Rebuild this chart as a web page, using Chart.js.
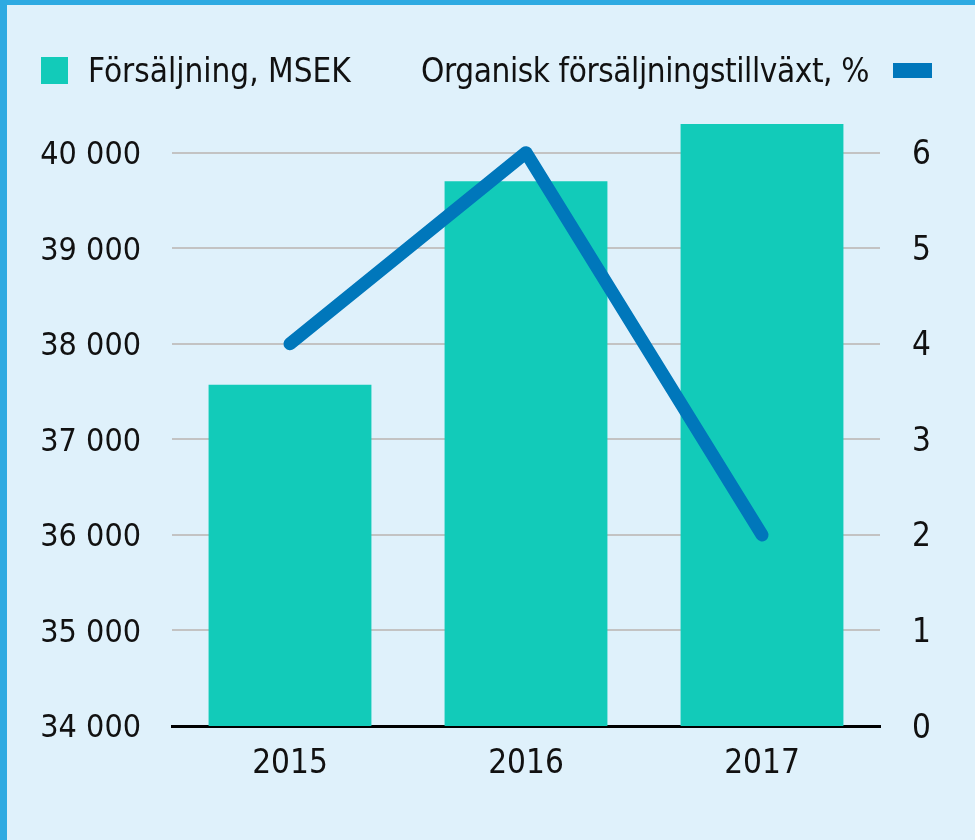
<!DOCTYPE html>
<html>
<head>
<meta charset="utf-8">
<script src="https://cdn.jsdelivr.net/npm/chart.js@4.4.1/dist/chart.umd.min.js"></script>
<style>
  html, body { margin: 0; padding: 0; }
  body {
    width: 975px; height: 840px; position: relative; overflow: hidden;
    background: #dff1fb;
    font-family: "DejaVu Sans Condensed", "DejaVu Sans", sans-serif;
  }
  #edgeLeft { position: absolute; left: 0; top: 0; width: 7px; height: 840px; background: #2eaae2; }
  #edgeTop { position: absolute; left: 0; top: 0; width: 975px; height: 5px; background: #2eaae2; }
  #wrap { position: absolute; left: 0; top: 0; width: 975px; height: 840px; }
  .legend { position: absolute; top: 51px; font-size: 33px; color: #111; display: flex; align-items: center; height: 38px; white-space: nowrap; }
  .sq { display: inline-block; width: 27px; height: 27px; margin-right: 20px; }
  .bar { display: inline-block; width: 39px; height: 15px; margin-left: 24px; }
</style>
</head>
<body>
<div id="wrap"><canvas id="myChart" width="975" height="840"></canvas></div>
<div id="edgeLeft"></div>
<div id="edgeTop"></div>
<div class="legend" id="leg1" style="left:41px"></div>
<div class="legend" id="leg2" style="right:43px; letter-spacing:-0.4px"></div>
<script>
let years = ['2015', '2016', '2017'];
let salesMsek = [37570, 39700, 40300];
let organicGrowth = [4, 6, 2];
let salesTicks = [34000, 35000, 36000, 37000, 38000, 39000, 40000];
let growthTicks = [0, 1, 2, 3, 4, 5, 6];

let salesLabel = 'Försäljning, MSEK';
let growthLabel = 'Organisk försäljningstillväxt, %';
let salesColor = '#12cbb9';
let growthColor = '#0077bb';

const FONT = '"DejaVu Sans Condensed", "DejaVu Sans", sans-serif';

document.getElementById('leg1').innerHTML =
    '<span class="sq" style="background:' + salesColor + '"></span>' + salesLabel;
document.getElementById('leg2').innerHTML =
    growthLabel + '<span class="bar" style="background:' + growthColor + '"></span>';

function fmt(v) {
    return String(v).replace(/\B(?=(\d{3})+(?!\d))/g, ' ');
}

let chartElement = document.getElementById('myChart').getContext('2d');

let myChart = new Chart(chartElement, {
    type: 'bar',
    data: {
        labels: years,
        datasets: [{
            type: 'line',
            label: growthLabel,
            data: organicGrowth,
            yAxisID: 'y1',
            borderColor: growthColor,
            borderWidth: 13,
            borderCapStyle: 'round',
            borderJoinStyle: 'round',
            pointRadius: 0,
            tension: 0,
            order: 0
        }, {
            label: salesLabel,
            data: salesMsek,
            yAxisID: 'y',
            backgroundColor: salesColor,
            categoryPercentage: 1,
            barPercentage: 0.69,
            order: 1
        }]
    },
    options: {
        responsive: false,
        animation: false,
        layout: { padding: { top: 124, left: 0, right: 0, bottom: 0 } },
        plugins: { legend: { display: false }, tooltip: { enabled: false } },
        scales: {
            x: {
                grid: { display: false },
                border: { display: true, color: '#000', width: 3 },
                ticks: { color: '#111', font: { family: FONT, size: 33 }, padding: 11 },
                afterFit: function(axis) { axis.height = 114; }
            },
            y: {
                position: 'left',
                min: 34000,
                max: 40300,
                afterBuildTicks: function(axis) { axis.ticks = salesTicks.map(v => ({ value: v })); },
                grid: { color: '#c3c3c3', lineWidth: 2, drawTicks: false },
                border: { display: false },
                ticks: { color: '#111', font: { family: FONT, size: 32 }, padding: 31, labelOffset: 3,
                    callback: function(v) { return fmt(v); } },
                afterFit: function(axis) { axis.width = 172; }
            },
            y1: {
                position: 'right',
                min: 0,
                max: 6.3,
                afterBuildTicks: function(axis) { axis.ticks = growthTicks.map(v => ({ value: v })); },
                grid: { display: false, drawTicks: false },
                border: { display: false },
                ticks: { color: '#111', font: { family: FONT, size: 33 }, padding: 32, labelOffset: 3 },
                afterFit: function(axis) { axis.width = 95; }
            }
        }
    }
});
</script>
</body>
</html>
